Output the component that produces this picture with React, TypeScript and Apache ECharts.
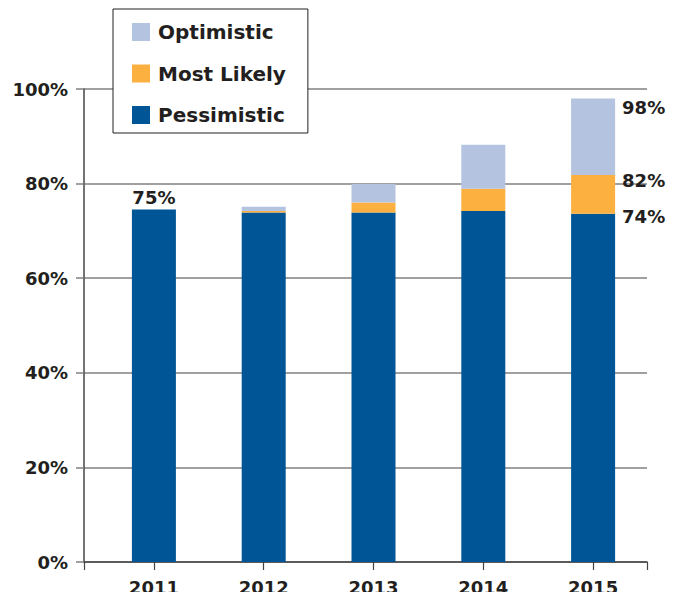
import React, { useEffect, useRef } from "react";
import * as echarts from "echarts";

const years = ["2011", "2012", "2013", "2014", "2015"];
// scenario levels (cumulative %)
const pessimistic = [74.5, 73.9, 73.9, 74.2, 73.6];
const mostLikely = [74.5, 74.2, 76.0, 78.9, 81.8];
const optimistic = [74.5, 75.1, 79.9, 88.2, 98.0];
const yTicks = [0, 20, 40, 60, 80, 100];

const FONT = "DejaVu Sans";
const TXT = "#231f20";

export default function App() {
  const ref = useRef<HTMLDivElement>(null);
  useEffect(() => {
    if (!ref.current) return;
    const chart = echarts.init(ref.current, null, { renderer: "svg" });
    const last = years.length - 1;
    const lbl = (show: boolean, extra: any) =>
      show
        ? {
            show: true,
            fontFamily: FONT,
            fontWeight: "bold",
            fontSize: 18,
            color: TXT,
            ...extra,
          }
        : { show: false };

    const pessData = pessimistic.map((v, i) => ({
      value: v,
      label:
        i === 0
          ? lbl(true, { position: "top", distance: 3, formatter: `${Math.round(optimistic[i])}%` })
          : i === last
          ? lbl(true, { position: [51, 3], verticalAlign: "middle", formatter: `${Math.round(v)}%` })
          : { show: false },
    }));
    const mlData = mostLikely.map((v, i) => ({
      value: +(v - pessimistic[i]).toFixed(2),
      label:
        i === last
          ? lbl(true, { position: [51, 5], verticalAlign: "middle", formatter: `${Math.round(v)}%` })
          : { show: false },
    }));
    const optData = optimistic.map((v, i) => ({
      value: +(v - mostLikely[i]).toFixed(2),
      label:
        i === last
          ? lbl(true, { position: [51, 9], verticalAlign: "middle", formatter: `${Math.round(v)}%` })
          : { show: false },
    }));

    chart.setOption({
      animation: false,
      backgroundColor: "#fff",
      legend: {
        orient: "vertical",
        left: 113,
        top: 9,
        itemWidth: 18,
        itemHeight: 18,
        itemGap: 21.5,
        padding: [13, 22, 8, 19],
        borderColor: TXT,
        borderWidth: 1,
        backgroundColor: "#fff",
        icon: "rect",
        selectedMode: false,
        z: 10,
        textStyle: {
          fontFamily: FONT,
          fontWeight: "bold",
          fontSize: 20,
          color: TXT,
          padding: [0, 0, 0, 3],
        },
        data: ["Optimistic", "Most Likely", "Pessimistic"],
      },
      grid: [
        { left: 84, right: 31, top: 89, bottom: 38 },
        { left: 99, width: 549, top: 89, bottom: 38 },
      ],
      xAxis: [
        {
          type: "category",
          gridIndex: 0,
          data: [""],
          axisLine: { lineStyle: { color: "#444", width: 1.5 } },
          axisTick: { show: true, length: 8, lineStyle: { color: "#444", width: 1.2 } },
          axisLabel: { show: false },
        },
        {
          type: "category",
          gridIndex: 1,
          data: years,
          axisLine: { show: false },
          axisTick: { show: true, alignWithLabel: true, length: 8, lineStyle: { color: "#444", width: 1.2 } },
          axisLabel: {
            margin: 16,
            fontFamily: FONT,
            fontWeight: "bold",
            fontSize: 18,
            color: TXT,
          },
        },
      ],
      yAxis: [
        {
          type: "value",
          gridIndex: 0,
          min: yTicks[0],
          max: yTicks[yTicks.length - 1],
          interval: 20,
          axisLine: { show: true, lineStyle: { color: "#444", width: 1.5 } },
          axisTick: { show: true, length: 8, lineStyle: { color: "#808080", width: 1.5 } },
          splitLine: { show: true, lineStyle: { color: "#808080", width: 1.5 } },
          axisLabel: {
            margin: 16,
            formatter: "{value}%",
            fontFamily: FONT,
            fontWeight: "bold",
            fontSize: 18,
            color: TXT,
          },
        },
        {
          type: "value",
          gridIndex: 1,
          min: 0,
          max: 100,
          show: false,
        },
      ],
      series: [
        {
          name: "Pessimistic",
          type: "bar",
          xAxisIndex: 1,
          yAxisIndex: 1,
          stack: "s",
          barWidth: 44,
          itemStyle: { color: "#005596" },
          data: pessData,
          z: 3,
        },
        {
          name: "Most Likely",
          type: "bar",
          xAxisIndex: 1,
          yAxisIndex: 1,
          stack: "s",
          barWidth: 44,
          itemStyle: { color: "#fbb040" },
          data: mlData,
          z: 3,
        },
        {
          name: "Optimistic",
          type: "bar",
          xAxisIndex: 1,
          yAxisIndex: 1,
          stack: "s",
          barWidth: 44,
          itemStyle: { color: "#b3c3e0" },
          data: optData,
          z: 3,
        },
      ],
    });
    return () => chart.dispose();
  }, []);
  return <div ref={ref} style={{ width: 678, height: 600, margin: -8 }} />;
}
